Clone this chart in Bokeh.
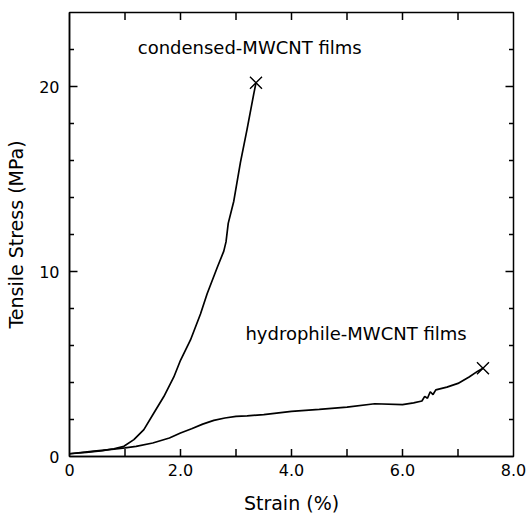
import math
from bokeh.plotting import figure
from bokeh.models import FixedTicker, Range1d, ColumnDataSource
from bokeh.core.properties import value
from bokeh.embed import file_html
from bokeh.resources import INLINE

# ---- data ----
condensed_strain = [0, 0.3, 0.6, 0.8, 0.98, 1.16, 1.34, 1.52, 1.70, 1.88, 2.0, 2.18, 2.36,
                    2.48, 2.66, 2.78, 2.82, 2.86, 2.96, 3.08, 3.20, 3.32, 3.36]
condensed_stress = [0.15, 0.22, 0.32, 0.42, 0.55, 0.91, 1.45, 2.35, 3.24, 4.3, 5.2, 6.3, 7.7,
                    8.8, 10.2, 11.1, 11.6, 12.6, 13.8, 15.9, 17.7, 19.6, 20.2]

hydro_strain = [0, 0.4, 0.8, 1.0, 1.2, 1.5, 1.8, 2.0, 2.2, 2.4, 2.6, 2.8, 3.0, 3.2, 3.5,
                4.0, 4.5, 5.0, 5.5, 6.0, 6.2, 6.35, 6.4, 6.45, 6.5, 6.55, 6.6, 6.8, 7.0,
                7.2, 7.35, 7.45]
hydro_stress = [0.15, 0.28, 0.4, 0.47, 0.55, 0.73, 1.0, 1.27, 1.5, 1.75, 1.95, 2.08, 2.17,
                2.2, 2.26, 2.44, 2.55, 2.67, 2.85, 2.80, 2.9, 3.0, 3.25, 3.15, 3.5, 3.35,
                3.6, 3.75, 3.95, 4.3, 4.6, 4.77]

labels = ["condensed-MWCNT films", "hydrophile-MWCNT films"]
label_x = [1.23, 3.17]
label_y = [22.1, 6.67]

x_major = [0, 2, 4, 6, 8]
x_minor = [1, 3, 5, 7]
x_tick_labels = ["0", "2.0", "4.0", "6.0", "8.0"]
y_major = [0, 10, 20]
y_minor = [2, 4, 6, 8, 12, 14, 16, 18, 22]
y_tick_labels = ["0", "10", "20"]

X_MIN, X_MAX = 0, 8
Y_MIN, Y_MAX = 0, 24

FONT = "DejaVu Sans"

p = figure(width=528, height=516, output_backend="svg", toolbar_location=None,
           x_range=Range1d(X_MIN, X_MAX), y_range=Range1d(Y_MIN, Y_MAX),
           min_border_left=69, min_border_right=15, min_border_top=12, min_border_bottom=59)
p.grid.visible = False
p.outline_line_color = "black"
p.outline_line_width = 1.5
p.background_fill_color = "white"
p.border_fill_color = "white"

for ax, major, minor, lab, ov in [(p.xaxis[0], x_major, x_minor, "Strain (%)", x_tick_labels),
                                  (p.yaxis[0], y_major, y_minor, "Tensile Stress (MPa)", y_tick_labels)]:
    ax.ticker = FixedTicker(ticks=major, minor_ticks=minor)
    ax.major_label_overrides = {t: s for t, s in zip(major, ov)}
    ax.axis_line_color = "black"
    ax.axis_line_width = 1.5
    ax.major_tick_in = 0
    ax.major_tick_out = 0
    ax.minor_tick_in = 0
    ax.minor_tick_out = 0
    ax.major_label_text_font = FONT
    ax.major_label_text_font_size = "16px"
    ax.major_label_text_color = "black"
    ax.axis_label = lab
    ax.axis_label_text_font = FONT
    ax.axis_label_text_font_size = "19px"
    ax.axis_label_text_font_style = "normal"
    ax.axis_label_text_color = "black"

p.xaxis[0].major_label_standoff = 7
p.xaxis[0].axis_label_standoff = 13
p.yaxis[0].major_label_standoff = 10
p.yaxis[0].axis_label_standoff = 9

# inward tick marks on all four sides: dash markers centred on the frame edge,
# the outer half is clipped away by the plot frame
xt = [t for t in x_major if X_MIN < t < X_MAX] + x_minor
yt_major = [t for t in y_major if Y_MIN < t < Y_MAX]
tick_kw = dict(marker="dash", line_color="black", line_width=1.5)
p.scatter(x=xt, y=[Y_MIN] * len(xt), size=15, angle=math.pi / 2, **tick_kw)
p.scatter(x=xt, y=[Y_MAX] * len(xt), size=15, angle=math.pi / 2, **tick_kw)
p.scatter(x=[X_MIN] * len(yt_major), y=yt_major, size=16, **tick_kw)
p.scatter(x=[X_MAX] * len(yt_major), y=yt_major, size=16, **tick_kw)
p.scatter(x=[X_MIN] * len(y_minor), y=y_minor, size=9, **tick_kw)
p.scatter(x=[X_MAX] * len(y_minor), y=y_minor, size=9, **tick_kw)

# curves
p.line(condensed_strain, condensed_stress, line_color="black", line_width=1.7)
p.line(hydro_strain, hydro_stress, line_color="black", line_width=1.7)

# break markers
p.scatter([condensed_strain[-1], hydro_strain[-1]], [condensed_stress[-1], hydro_stress[-1]],
          marker="x", size=17, line_color="black", line_width=1.4)

src = ColumnDataSource(dict(x=label_x, y=label_y, t=labels))
p.text(x="x", y="y", text="t", source=src, text_font=value(FONT), text_font_size="18px",
       text_baseline="middle", text_align="left", text_color="black")

open("out.html", "w").write(file_html(p, INLINE))
